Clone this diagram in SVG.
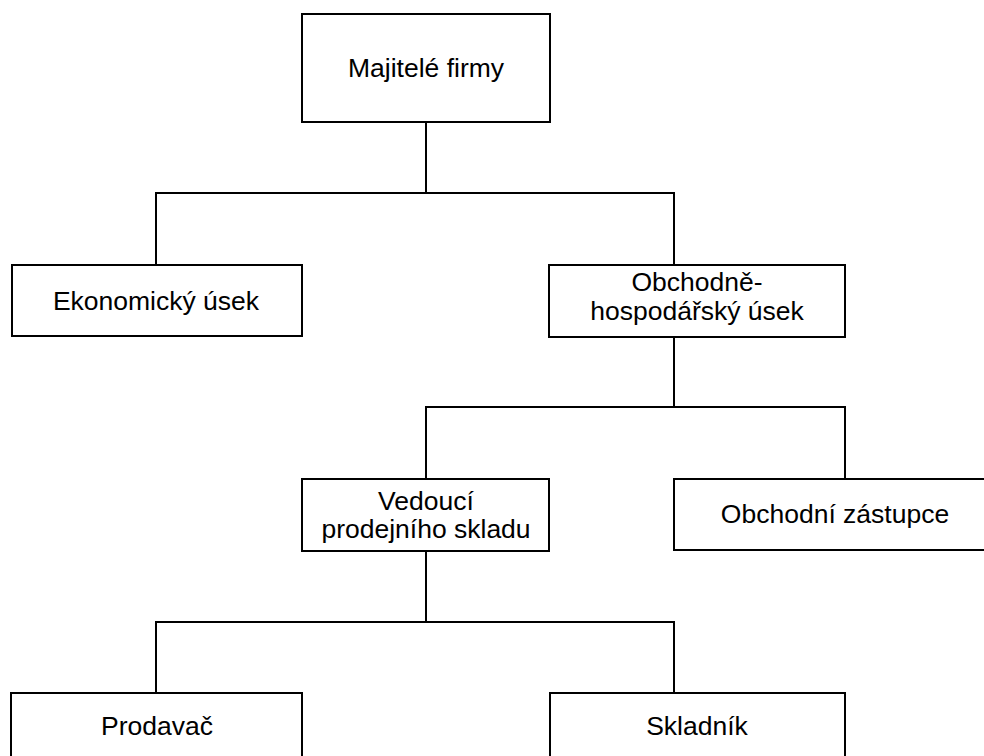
<svg xmlns="http://www.w3.org/2000/svg" width="984" height="756" viewBox="0 0 984 756">
  <style>
    .box { fill: #ffffff; stroke: #000000; stroke-width: 2; }
    .link { fill: none; stroke: #000000; stroke-width: 2; }
    .label { font-family: "Liberation Sans", Arial, sans-serif; font-size: 26.5px; fill: #000000; text-anchor: middle; }
  </style>
  <rect width="984" height="756" fill="#ffffff"/>

  <!-- tree connectors -->
  <g id="connectors">
    <path class="link" d="M426 122 V193 M156 265 V193 H674 V265"/>
    <path class="link" d="M674 337 V407 M426 479 V407 H845 V479"/>
    <path class="link" d="M426 551 V622 M156 693 V622 H674 V693"/>
  </g>

  <g id="majitele">
    <rect class="box" x="302" y="14" width="248" height="108"/>
    <text class="label" x="426" y="77">Majitelé firmy</text>
  </g>

  <g id="ekonomicky">
    <rect class="box" x="12" y="265" width="290" height="71"/>
    <text class="label" x="156" y="310">Ekonomický úsek</text>
  </g>

  <g id="obchodne-hospodarsky">
    <rect class="box" x="549" y="265" width="296" height="72"/>
    <text class="label" x="697" y="291">Obchodně-</text>
    <text class="label" x="697" y="320">hospodářský úsek</text>
  </g>

  <g id="vedouci">
    <rect class="box" x="302" y="479" width="247" height="72"/>
    <text class="label" x="426" y="510">Vedoucí</text>
    <text class="label" x="426" y="538">prodejního skladu</text>
  </g>

  <g id="obchodni-zastupce">
    <rect class="box" x="674" y="479" width="322" height="71"/>
    <text class="label" x="835" y="523">Obchodní zástupce</text>
  </g>

  <g id="prodavac">
    <rect class="box" x="11" y="693" width="291" height="80"/>
    <text class="label" x="157" y="735">Prodavač</text>
  </g>

  <g id="skladnik">
    <rect class="box" x="550" y="693" width="295" height="80"/>
    <text class="label" x="697" y="735">Skladník</text>
  </g>
</svg>
